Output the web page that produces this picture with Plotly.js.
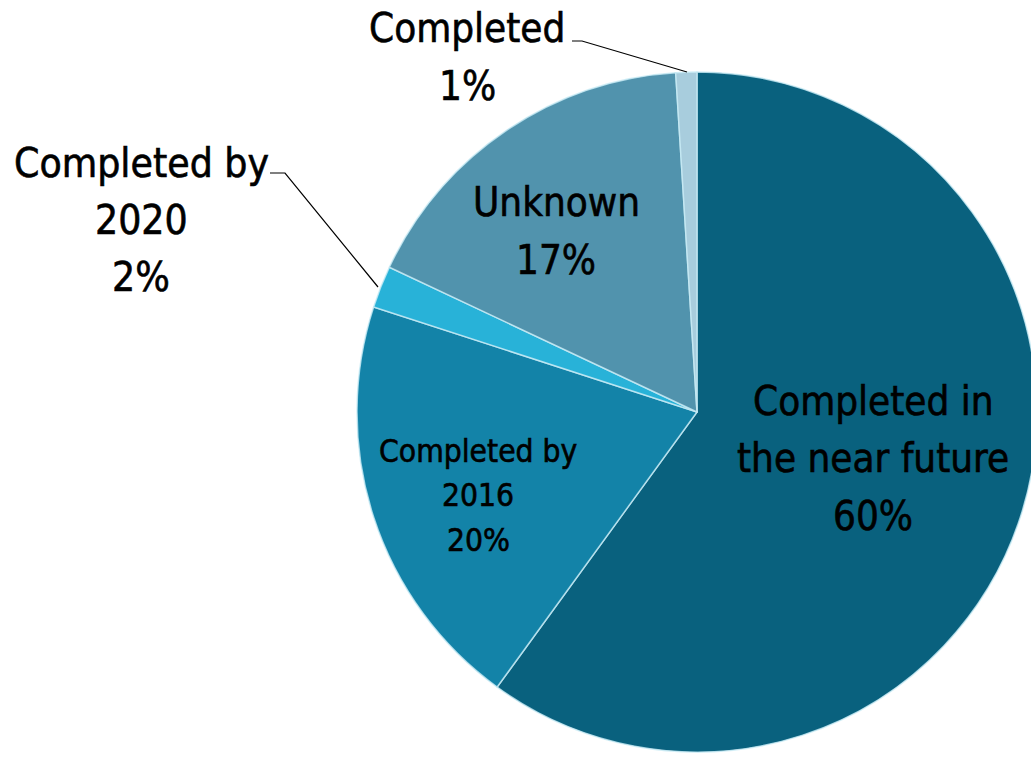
<!DOCTYPE html>
<html>
<head>
<meta charset="utf-8">
<script src="https://cdn.plot.ly/plotly-3.0.1.min.js"></script>
<style>
html,body{margin:0;padding:0;overflow:hidden;background:#fff;}
#chart{width:1045px;height:763px;}
#chart .annotation-text{stroke:#000;stroke-width:0.6px;}
</style>
</head>
<body>
<div id="chart"></div>
<script>
// Data
const categories = ["Completed in the near future", "Completed by 2016", "Completed by 2020", "Unknown", "Completed"];
const values = [60, 20, 2, 17, 1];
const labelLines = [
  ["Completed in", "the near future"],
  ["Completed by", "2016"],
  ["Completed by", "2020"],
  ["Unknown"],
  ["Completed"]
];

const colors = ["#09617e", "#1383a8", "#28b2d8", "#5193ad", "#a8cddd"];

const W = 1045, H = 763;
const px = x => x / W;
const py = y => 1 - y / H;
const FONT = "DejaVu Sans Condensed, DejaVu Sans, sans-serif";

const total = values.reduce((a, b) => a + b, 0);
const pct = values.map(v => Math.round(v / total * 100) + "%");

// label layout: center x, first line y, line spacing, font size
const labelPos = [
  {x: 873, y: 401, dy: 57.5, size: 40},
  {x: 478, y: 451, dy: 44.5, size: 31.5},
  {x: 141, y: 163, dy: 57, size: 40.5},
  {x: 556, y: 202, dy: 58, size: 40},
  {x: 467, y: 28, dy: 58, size: 40}
];

const annotations = [];
categories.forEach((c, i) => {
  const lines = labelLines[i].concat([pct[i]]);
  const p = labelPos[i];
  lines.forEach((t, j) => {
    annotations.push({
      text: t, xref: "paper", yref: "paper",
      x: px(p.x), y: py(p.y + j * p.dy),
      xanchor: "center", yanchor: "middle", showarrow: false,
      font: {family: FONT, size: p.size, color: "#000"}
    });
  });
});

const shapes = [
  {type: "path", xref: "paper", yref: "paper",
   path: `M ${px(572)} ${py(41)} L ${px(582)} ${py(41)} L ${px(687)} ${py(72)}`,
   line: {color: "#000", width: 1.2}},
  {type: "path", xref: "paper", yref: "paper",
   path: `M ${px(270)} ${py(173)} L ${px(285)} ${py(173)} L ${px(378)} ${py(287)}`,
   line: {color: "#000", width: 1.2}}
];

const trace = {
  type: "pie",
  labels: categories,
  values: values,
  sort: false,
  direction: "clockwise",
  rotation: 0,
  textinfo: "none",
  hoverinfo: "label+percent",
  marker: {colors: colors, line: {color: "rgba(200,235,245,0.8)", width: 1.5}},
  domain: {x: [px(357), px(1037)], y: [py(752), py(72)]},
  showlegend: false
};

Plotly.newPlot("chart", [trace], {
  width: W, height: H,
  margin: {l: 0, r: 0, t: 0, b: 0},
  paper_bgcolor: "#fff",
  showlegend: false,
  annotations: annotations,
  shapes: shapes
}, {displayModeBar: false, staticPlot: true});
</script>
</body>
</html>
